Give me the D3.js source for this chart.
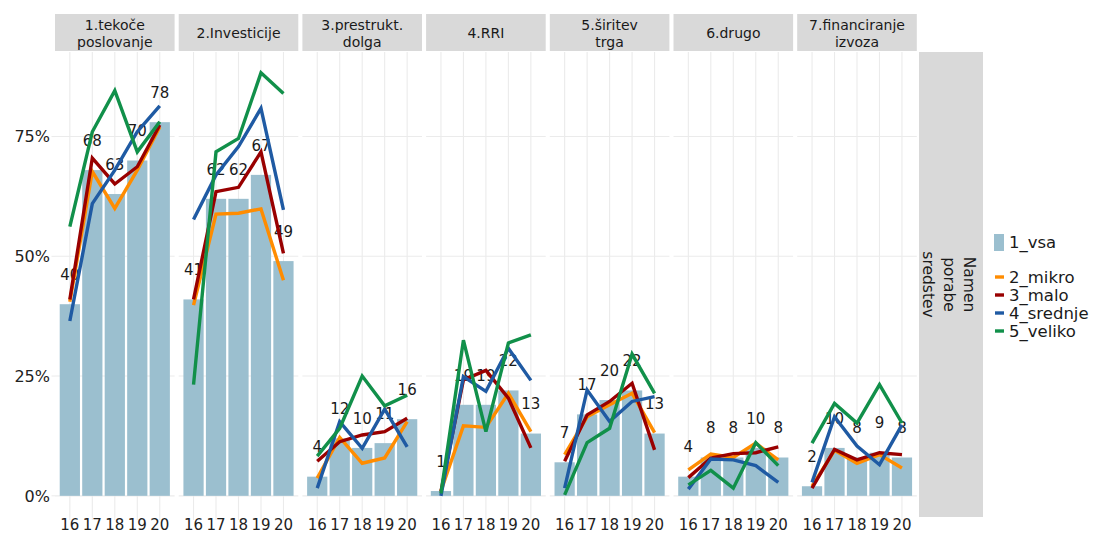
<!DOCTYPE html>
<html><head><meta charset="utf-8">
<script src="https://cdn.jsdelivr.net/npm/d3@7"></script>
<style>body{margin:0;background:#fff}svg{display:block;font-family:"DejaVu Sans",Verdana,sans-serif}</style>
</head><body><svg id="c" width="1093" height="533"></svg>
<script>
const years = ["16","17","18","19","20"];
const categories = [["1.tekoče","poslovanje"],["2.Investicije"],["3.prestrukt.","dolga"],["4.RRI"],["5.širitev","trga"],["6.drugo"],["7.financiranje","izvoza"]];
const yTicks = [0, 0.25, 0.5, 0.75];
const vsa = [[40,68,63,70,78],[41,62,62,67,49],[4,12,10,11,16],[1,19,19,22,13],[7,17,20,22,13],[4,8,8,10,8],[2,10,8,9,8]];
const mikro = [[40.5,67.7,60,68,77],[39.8,58.8,59,59.9,45],[3.7,12.2,6.8,7.9,15.5],[1,14.6,14.3,21.4,13.4],[8.6,16.5,19,21.4,13.2],[5.4,8.7,8,11,7.5],[2,9.5,6.8,8.6,5.8]];
const malo = [[41,70.5,65.1,68.7,77.4],[41,63.5,64.4,71.8,50.6],[7.2,11.3,12.7,13.4,16.2],[0.9,24.2,26.2,20.4,10],[7.2,16.9,19.7,23.5,9.6],[3.8,7.9,8.8,9,10.2],[1.6,9.7,7.5,9,8.6]];
const srednje = [[36.5,61,68,76,81.4],[57.7,67,72.9,80.9,59.7],[1.6,15.5,9.9,18.1,10.2],[0,24.9,21.8,30.8,24.1],[1.6,22.1,15.5,19.7,20.7],[1.4,7.7,7.5,6.3,2.8],[2.8,16.5,10.4,6.5,14.8]];
const veliko = [[56.2,76,84.6,71.8,78.1],[23.2,71.8,74.6,88.3,84],[8.3,14.1,25,18.8,21],[0.5,32.5,13.4,31.9,33.6],[0.2,11.1,14.1,29.6,21.4],[2.3,5.3,1.6,11.1,6.3],[11,19.3,15.2,23.2,15.2]];
const seriesNames = ["2_mikro","3_malo","4_srednje","5_veliko"];
const seriesData = [mikro, malo, srednje, veliko];
const seriesColors = ["#ff8c00","#990000","#1f5aa3","#11904a"];
const barColor = "#9bbfcf";
const stripTitle = ["Namen","porabe","sredstev"];

(function(){
const svg = d3.select("#c");
const pTop = 52, pBottom = 517, left0 = 55, pw = 119.6, gap = 4.1;
const y = d3.scaleLinear().domain([-0.0442, 0.9265]).range([pBottom, pTop]);
const grid = "#ebebeb";

categories.forEach((cat, i) => {
  const px = left0 + i * (pw + gap);
  const x = d3.scalePoint().domain(years).range([px, px + pw]).padding(0.66);
  const bw = x.step() * 0.9;
  const g = svg.append("g");
  g.append("rect").attr("x", px).attr("y", 14).attr("width", pw).attr("height", 37).attr("fill", "#d9d9d9");
  const st = g.append("text").attr("x", px + pw/2).attr("text-anchor","middle").attr("font-size", 14).attr("fill","#1a1a1a");
  if (cat.length === 1) st.append("tspan").attr("x", px+pw/2).attr("y", 38).text(cat[0]);
  else { st.append("tspan").attr("x", px+pw/2).attr("y", 30).text(cat[0]); st.append("tspan").attr("x", px+pw/2).attr("y", 47).text(cat[1]); }
  g.selectAll(".hg").data(yTicks).join("line").attr("x1", px).attr("x2", px+pw)
    .attr("y1", d => y(d)).attr("y2", d => y(d)).attr("stroke", grid).attr("stroke-width", 1.1);
  g.selectAll(".vg").data(years).join("line").attr("x1", d => x(d)).attr("x2", d => x(d))
    .attr("y1", pTop).attr("y2", pBottom).attr("stroke", grid).attr("stroke-width", 1.1);
  g.selectAll(".bar").data(vsa[i]).join("rect")
    .attr("x", (d, j) => x(years[j]) - bw/2).attr("width", bw)
    .attr("y", d => y(d/100)).attr("height", d => y(0) - y(d/100)).attr("fill", barColor);
  g.selectAll(".lab").data(vsa[i]).join("text")
    .attr("x", (d, j) => x(years[j])).attr("y", d => y(d/100 + 0.062))
    .attr("dy", "0.36em").attr("text-anchor","middle").attr("font-size", 15).attr("fill","#1a1a1a").text(d => d);
  const line = d3.line().x((d, j) => x(years[j])).y(d => y(d/100));
  seriesData.forEach((s, k) => {
    g.append("path").attr("d", line(s[i])).attr("fill","none").attr("stroke", seriesColors[k])
      .attr("stroke-width", 3.4).attr("stroke-linejoin","miter");
  });
  g.selectAll(".xt").data(years).join("text").attr("x", d => x(d)).attr("y", 530)
    .attr("text-anchor","middle").attr("font-size", 15).attr("fill","#222").text(d => d);
  g.selectAll(".xtk").data(years).join("line").attr("x1", d => x(d)).attr("x2", d => x(d))
    .attr("y1", pBottom).attr("y2", pBottom + 3).attr("stroke", grid);
});

svg.selectAll(".yt").data(yTicks).join("text").attr("x", 50).attr("y", d => y(d)).attr("dy","0.36em")
  .attr("text-anchor","end").attr("font-size", 16).attr("fill","#222").text(d => d3.format(".0%")(d));
svg.selectAll(".ytk").data(yTicks).join("line").attr("x1", 51.5).attr("x2", 55).attr("y1", d => y(d)).attr("y2", d => y(d)).attr("stroke", grid);

svg.append("rect").attr("x", 919).attr("y", pTop).attr("width", 64).attr("height", pBottom - pTop).attr("fill","#d9d9d9");
const rs = svg.append("text").attr("transform", `translate(970,${(pTop+pBottom)/2}) rotate(90)`)
  .attr("text-anchor","middle").attr("font-size", 15.5).attr("fill","#1a1a1a");
stripTitle.forEach((t, k) => rs.append("tspan").attr("x", 0).attr("y", k * 20.5).attr("dy","0.36em").text(t));

const lg = svg.append("g");
lg.append("rect").attr("x", 994).attr("y", 234).attr("width", 10).attr("height", 17).attr("fill", barColor);
lg.append("text").attr("x", 1009).attr("y", 242.5).attr("dy","0.36em").attr("font-size", 16.5).attr("fill","#1a1a1a").text("1_vsa");
seriesNames.forEach((n, k) => {
  const yy = 277 + k * 18;
  lg.append("line").attr("x1", 995).attr("x2", 1004).attr("y1", yy).attr("y2", yy).attr("stroke", seriesColors[k]).attr("stroke-width", 3.4);
  lg.append("text").attr("x", 1009).attr("y", yy).attr("dy","0.36em").attr("font-size", 16.5).attr("fill","#1a1a1a").text(n);
});
})();
</script></body></html>
